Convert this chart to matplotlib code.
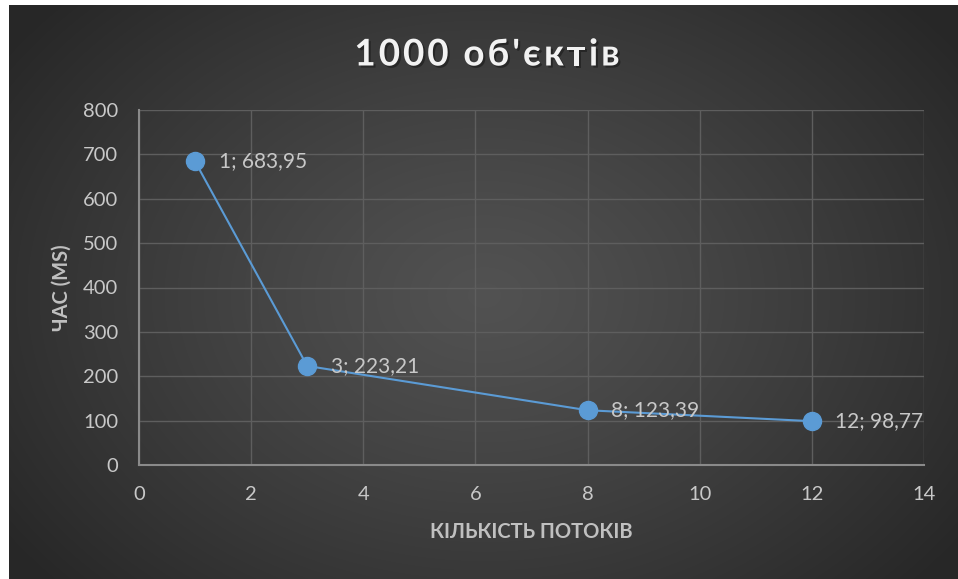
import numpy as np
import matplotlib.pyplot as plt
import matplotlib.patheffects as pe

# дані
threads = [1, 3, 8, 12]
times = [683.95, 223.21, 123.39, 98.77]
point_labels = ['1; 683,95', '3; 223,21', '8; 123,39', '12; 98,77']
title = "1000 об'єктів"

plt.rcParams['font.family'] = ['Lato', 'Open Sans', 'DejaVu Sans']

W, H = 958, 579
fig = plt.figure(figsize=(W / 100, H / 100), dpi=100)
fig.patch.set_facecolor('white')

# фон з радіальним градієнтом
bg = fig.add_axes([9 / W, 0, 1 - 9 / W, 1 - 5 / H])
bg.set_axis_off()
yy, xx = np.mgrid[0:574, 0:949]
r = np.sqrt(((xx - 475) / 580.0) ** 2 + ((yy - 290) / 430.0) ** 2)
r = np.clip(r, 0, 1)
shade = 0.32 - 0.165 * r ** 1.2
bg.imshow(np.dstack([shade, shade, shade]), aspect='auto', interpolation='bilinear')

ax = fig.add_axes([139 / W, 1 - 465 / H, (924 - 139) / W, (465 - 110) / H])
ax.set_facecolor('none')
ax.set_xlim(0, 14)
ax.set_ylim(0, 800)
ax.set_xticks(range(0, 15, 2))
ax.set_yticks(range(0, 801, 100))
ax.grid(True, color='#5e5e5e', linewidth=1)
ax.set_axisbelow(True)
for s in ['top', 'right']:
    ax.spines[s].set_visible(False)
for s in ['left', 'bottom']:
    ax.spines[s].set_color('#8a8a8a')
    ax.spines[s].set_linewidth(1.5)
ax.tick_params(length=0, labelsize=14.5, labelcolor='#c8c8c8', pad=15)

ax.plot(threads, times, color='#5b9bd5', linewidth=1.5, marker='o',
        markersize=13, markerfacecolor='#5b9bd5', markeredgecolor='#5b9bd5', zorder=3)
for x, y, t in zip(threads, times, point_labels):
    ax.annotate(t, (x, y), xytext=(17, 0), textcoords='offset points',
                va='center', ha='left', fontsize=15, color='#c8c8c8')

ax.set_xlabel('КІЛЬКІСТЬ ПОТОКІВ', fontsize=14.5, fontweight='bold', color='#c0c0c0', labelpad=14)
ax.set_ylabel('ЧАС (MS)', fontsize=14.5, fontweight='bold', color='#c0c0c0', labelpad=8)

# заголовок з розрядкою літер
renderer = fig.canvas.get_renderer()
tkw = dict(fontsize=26.5, fontweight='bold', color='#f2f2f2', va='center', ha='left')
shadow = [pe.withSimplePatchShadow(offset=(1.5, -1.5), shadow_rgbFace='black', alpha=0.35)]


def text_w(s):
    t = fig.text(0, 0, s, **tkw)
    w = t.get_window_extent(renderer).width
    t.remove()
    return w


spacing = 3.0
total = text_w(title) + spacing * (len(title) - 1)
x0 = 487 - total / 2
for i, ch in enumerate(title):
    if ch == ' ':
        continue
    xi = x0 + text_w(title[:i + 1]) - text_w(ch) + spacing * i
    fig.text(xi / W, 1 - 55 / H, ch, path_effects=shadow, **tkw)

fig.savefig('out.png', dpi=100)
